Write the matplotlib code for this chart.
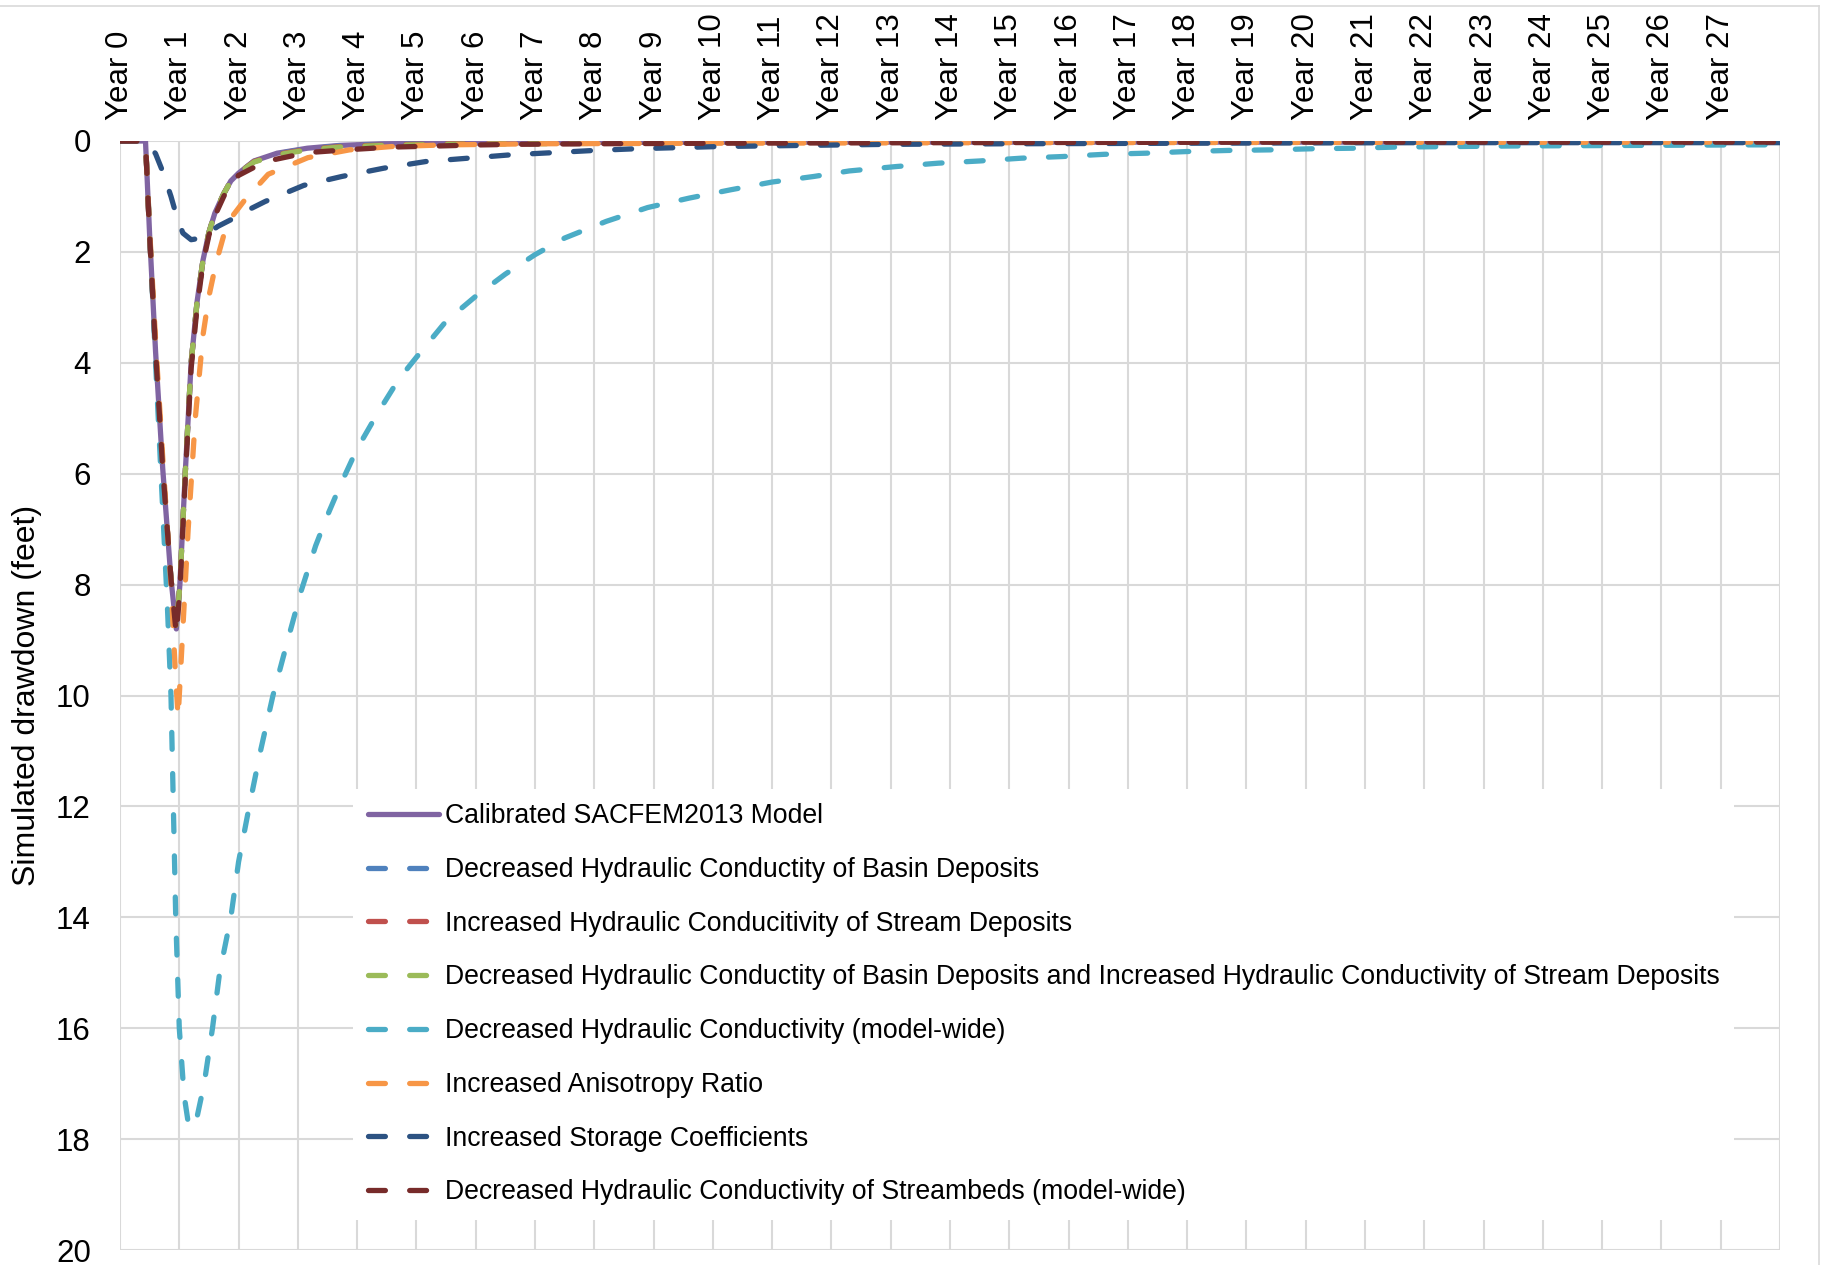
import matplotlib
matplotlib.use("Agg")
import matplotlib.pyplot as plt
from matplotlib.lines import Line2D

plt.rcParams['font.family'] = ['Liberation Sans', 'DejaVu Sans']

# ---------------- data (years since start, simulated drawdown in feet) ----------------
year_labels = [f"Year {i}" for i in range(28)]

cal_years = [0, 0.43, 0.5, 0.6, 0.72, 0.86, 0.95, 1.01, 1.1, 1.2, 1.3, 1.4, 1.5, 1.6, 1.75,
             1.87, 2.0, 2.26, 2.65, 3.16, 3.7, 4.45, 5.5, 7.0, 10.0, 15.0, 20.0, 28.0]
cal_vals = [0, 0, 1.7, 3.8, 5.9, 7.9, 8.8, 8.0, 6.0, 4.0, 2.9, 2.15, 1.65, 1.3, 0.95,
            0.72, 0.58, 0.36, 0.22, 0.13, 0.08, 0.05, 0.04, 0.03, 0.02, 0.02, 0.02, 0.02]

basin_years = cal_years
basin_vals = [0, 0, 1.7, 3.8, 5.9, 7.9, 8.8, 8.0, 6.0, 4.0, 2.9, 2.15, 1.65, 1.3, 0.95,
              0.72, 0.58, 0.37, 0.23, 0.14, 0.09, 0.06, 0.05, 0.04, 0.03, 0.02, 0.02, 0.02]

stream_years = cal_years
stream_vals = [0, 0, 1.7, 3.8, 5.9, 7.9, 8.8, 8.0, 6.0, 4.0, 2.9, 2.15, 1.65, 1.3, 0.95,
               0.72, 0.58, 0.37, 0.24, 0.15, 0.10, 0.07, 0.05, 0.04, 0.03, 0.02, 0.02, 0.02]

both_years = cal_years
both_vals = [0, 0, 1.7, 3.8, 5.9, 7.9, 8.8, 8.0, 6.0, 4.0, 2.9, 2.15, 1.65, 1.3, 0.95,
             0.72, 0.58, 0.38, 0.25, 0.16, 0.11, 0.08, 0.06, 0.05, 0.03, 0.02, 0.02, 0.02]

kwide_years = [0, 0.43, 0.5, 0.6, 0.7, 0.8, 0.86, 0.9, 0.94, 1.0, 1.08, 1.15, 1.22, 1.3,
               1.42, 1.56, 1.68, 1.87, 2.0, 2.18, 2.37, 2.58, 2.83, 3.06, 3.3, 3.5, 3.74,
               4.0, 4.35, 4.7, 5.0, 5.5, 6.0, 6.5, 7.0, 7.5, 8.2, 8.9, 9.6, 10.3, 11.0,
               11.7, 12.3, 13.1, 13.8, 14.5, 15.2, 15.9, 16.6, 17.3, 18.0, 18.7, 19.4,
               20.1, 20.8, 21.5, 22.5, 23.5, 24.5, 25.5, 26.5, 27.5, 28.0]
kwide_vals = [0, 0, 1.6, 4.0, 6.2, 8.4, 10.0, 12.0, 14.0, 16.0, 17.2, 17.7, 17.8, 17.6,
              17.0, 16.0, 15.0, 14.0, 13.0, 12.0, 11.0, 10.0, 9.0, 8.1, 7.3, 6.75, 6.15,
              5.55, 4.9, 4.3, 3.9, 3.25, 2.8, 2.4, 2.05, 1.75, 1.45, 1.2, 1.03, 0.88, 0.74,
              0.64, 0.54, 0.46, 0.40, 0.36, 0.31, 0.28, 0.24, 0.22, 0.19, 0.17, 0.16,
              0.14, 0.13, 0.11, 0.10, 0.09, 0.085, 0.08, 0.075, 0.07, 0.07]

aniso_years = [0, 0.43, 0.5, 0.6, 0.72, 0.86, 0.93, 0.98, 1.05, 1.15, 1.27, 1.4, 1.5, 1.62,
               1.75, 1.9, 2.1, 2.5, 3.17, 3.87, 4.58, 5.5, 7.0, 10.0, 15.0, 28.0]
aniso_vals = [0, 0, 1.6, 3.6, 5.7, 8.0, 9.5, 10.4, 9.0, 7.0, 5.0, 3.5, 2.8, 2.2,
              1.7, 1.35, 1.07, 0.6, 0.3, 0.16, 0.10, 0.07, 0.05, 0.04, 0.03, 0.02]

stor_years = [0, 0.45, 0.6, 0.72, 0.86, 0.94, 1.06, 1.2, 1.37, 1.65, 1.87, 2.0, 2.45, 3.1,
              3.74, 4.45, 5.16, 5.87, 6.58, 7.3, 8.0, 8.7, 9.4, 10.1, 11.5, 13.0, 15.0,
              18.0, 22.0, 28.0]
stor_vals = [0, 0, 0.23, 0.55, 1.0, 1.3, 1.66, 1.78, 1.75, 1.54, 1.42, 1.33, 1.09, 0.8,
             0.64, 0.49, 0.37, 0.31, 0.25, 0.21, 0.17, 0.14, 0.12, 0.10, 0.08, 0.06, 0.05,
             0.04, 0.03, 0.03]

sbed_years = [0, 0.43, 0.5, 0.6, 0.72, 0.86, 0.95, 1.01, 1.1, 1.2, 1.3, 1.4, 1.5, 1.6, 1.75,
              1.87, 2.0, 2.45, 3.16, 3.8, 4.58, 5.35, 6.1, 6.7, 8.0, 10.0, 14.0, 20.0, 28.0]
sbed_vals = [0, 0, 1.7, 3.8, 5.9, 7.9, 8.9, 8.1, 6.1, 4.1, 3.0, 2.2, 1.7, 1.35, 1.0,
             0.76, 0.62, 0.37, 0.21, 0.16, 0.11, 0.09, 0.07, 0.06, 0.05, 0.04, 0.03, 0.02, 0.02]

series = [
    ("Calibrated SACFEM2013 Model", cal_years, cal_vals, "#8064A2", False),
    ("Decreased Hydraulic Conductity of Basin Deposits", basin_years, basin_vals, "#4F81BD", True),
    ("Increased Hydraulic Conducitivity of Stream Deposits", stream_years, stream_vals, "#C0504D", True),
    ("Decreased Hydraulic Conductity of Basin Deposits and Increased Hydraulic Conductivity of Stream Deposits",
     both_years, both_vals, "#9BBB59", True),
    ("Decreased Hydraulic Conductivity (model-wide)", kwide_years, kwide_vals, "#4BACC6", True),
    ("Increased Anisotropy Ratio", aniso_years, aniso_vals, "#F79646", True),
    ("Increased Storage Coefficients", stor_years, stor_vals, "#2C5282", True),
    ("Decreased Hydraulic Conductivity of Streambeds (model-wide)", sbed_years, sbed_vals, "#772B2A", True),
]

# ---------------- figure ----------------
W, H = 1826, 1265
fig = plt.figure(figsize=(W / 100, H / 100), dpi=100)
L, R, T, B = 120, 1780, 141, 1250
ax = fig.add_axes([L / W, 1 - B / H, (R - L) / W, (B - T) / H])

lw = 3.8
for i, (name, xs, ys, col, dashed) in enumerate(series):
    if dashed:
        ln, = ax.plot(xs, ys, color=col, lw=lw, label=name, zorder=3 + i,
                      solid_capstyle='round', dash_capstyle='round')
        ln.set_dashes((3.2, 4.6))
    else:
        ax.plot(xs, ys, color=col, lw=lw, label=name, zorder=3 + i,
                solid_capstyle='round')

ax.set_xlim(0, 28)
ax.set_ylim(20, 0)
ax.set_xticks(range(29))
ax.set_xticklabels(year_labels + [""], rotation=90)
ax.xaxis.tick_top()
ax.set_yticks(range(0, 21, 2))
ax.tick_params(axis='x', length=0, pad=15, labelsize=22.5, colors='black')
ax.tick_params(axis='y', length=0, pad=21, labelsize=22.5, colors='black')
ax.grid(True, color='#d9d9d9', lw=1.5, zorder=0)
ax.set_axisbelow(True)
for s in ax.spines.values():
    s.set_visible(False)
ax.set_ylabel("Simulated drawdown (feet)", fontsize=23)
ax.yaxis.set_label_coords(-0.047, 0.5)

leg_right = (1734 - L) / (R - L)
leg_bottom = (B - 1220) / (B - T)
leg = ax.legend(loc='lower right', bbox_to_anchor=(leg_right, leg_bottom),
                fontsize=19.2, frameon=True, fancybox=False, framealpha=1,
                facecolor='white', edgecolor='none', borderaxespad=0,
                borderpad=0.55, labelspacing=1.04, handlelength=2.65,
                handletextpad=0.22)
leg.set_zorder(20)

# outer chart-area border
fig.add_artist(Line2D([0, 1819 / W], [1 - 6 / H, 1 - 6 / H], color='#d9d9d9', lw=1.2,
                      transform=fig.transFigure))
fig.add_artist(Line2D([1819 / W, 1819 / W], [0, 1 - 6 / H], color='#d9d9d9', lw=1.2,
                      transform=fig.transFigure))

fig.savefig("out.png", dpi=100)
